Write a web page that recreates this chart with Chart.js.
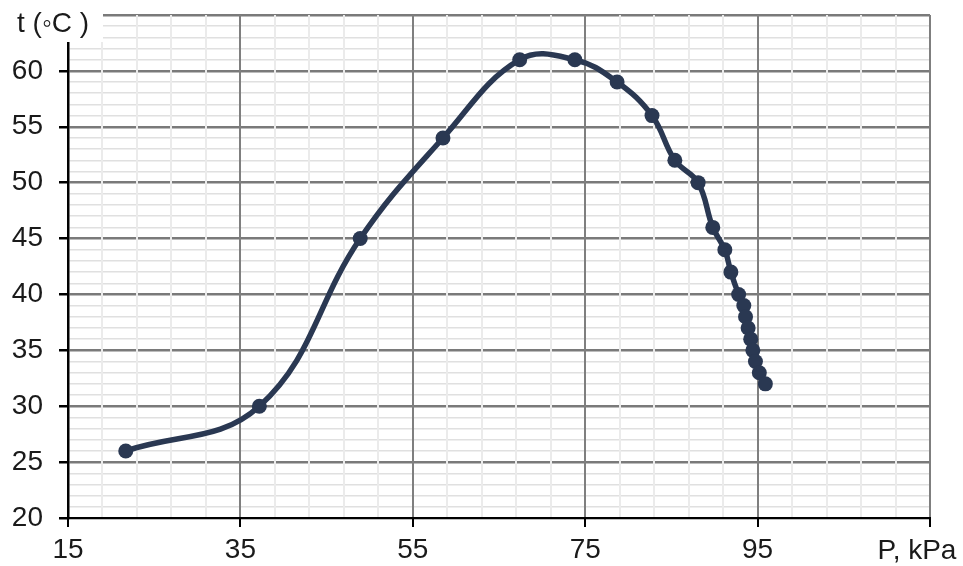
<!DOCTYPE html>
<html>
<head>
<meta charset="utf-8">
<script src="https://cdn.jsdelivr.net/npm/chart.js@4.4.1/dist/chart.umd.min.js"></script>
<style>
  html, body { margin: 0; padding: 0; background: #ffffff; }
  #wrap { width: 963px; height: 566px; position: relative; }
</style>
</head>
<body>
<div id="wrap"><canvas id="c" width="963" height="566"></canvas></div>
<script>
// ---- data ----
const pressureKPa = [21.7, 37.2, 48.9, 58.5, 67.4, 73.8, 78.7, 82.75, 85.4, 88.1, 89.8, 91.2, 91.9, 92.8, 93.4, 93.6, 93.9, 94.2, 94.45, 94.75, 95.2, 95.9];
const temperatureC = [26, 30, 45, 54, 61, 61, 59, 56, 52, 50, 46, 44, 42, 40, 39, 38, 37, 36, 35, 34, 33, 32];
const xMajorTicks = [15, 35, 55, 75, 95];
const yMajorTicks = [20, 25, 30, 35, 40, 45, 50, 55, 60];
const xAxisLabel = 'P, kPa';
const yAxisLabel = 't (\u25E6C )';

const points = pressureKPa.map((p, i) => ({ x: p, y: temperatureC[i] }));

const isXMajor = v => Math.abs(((v - 15) % 20 + 20) % 20) < 1e-6;
const isYMajor = v => Math.abs(((v - 20) % 5 + 5) % 5) < 1e-6;
const FONT = '"Liberation Sans", Arial, sans-serif';

const labelsPlugin = {
  id: 'axisLabels',
  afterDraw(chart) {
    const ctx = chart.ctx;
    ctx.save();
    ctx.fillStyle = '#ffffff';
    ctx.fillRect(0, 0, 103, 42);
    ctx.fillStyle = '#1a1a1a';
    ctx.font = '28px ' + FONT;
    ctx.textBaseline = 'middle';
    ctx.textAlign = 'left';
    ctx.fillText(yAxisLabel, 17, 24);
    ctx.textAlign = 'center';
    ctx.fillText(xAxisLabel, 917, 551);
    ctx.restore();
  }
};

new Chart(document.getElementById('c'), {
  type: 'scatter',
  data: {
    datasets: [{
      data: points,
      showLine: true,
      borderColor: '#2a3852',
      backgroundColor: '#2a3852',
      borderWidth: 5.5,
      tension: 0.4,
      pointRadius: 7.5,
      pointHoverRadius: 7.5,
      pointBorderWidth: 0,
      pointBackgroundColor: '#2a3852'
    }]
  },
  options: {
    responsive: false,
    animation: false,
    events: [],
    layout: { padding: { top: 15, right: 33, left: 0, bottom: 0 } },
    plugins: { legend: { display: false }, tooltip: { enabled: false } },
    scales: {
      x: {
        type: 'linear',
        min: 15, max: 115,
        afterFit(s) { s.height = 48; s.paddingLeft = 0; s.paddingRight = 0; },
        afterBuildTicks(s) {
          const t = [];
          for (let v = 15; v <= 115; v += 4) t.push({ value: v });
          s.ticks = t;
        },
        ticks: {
          autoSkip: false,
          maxRotation: 0,
          padding: 6,
          color: '#1a1a1a',
          font: { family: FONT, size: 28 },
          callback: v => xMajorTicks.includes(v) ? String(v) : ''
        },
        grid: {
          z: -1,
          color: c => isXMajor(c.tick.value) ? '#7f7f7f' : '#ebebeb',
          lineWidth: 2,
          tickColor: c => isXMajor(c.tick.value) ? '#000000' : 'rgba(0,0,0,0)',
          tickLength: 9
        },
        border: { display: true, color: '#000000', width: 2 }
      },
      y: {
        type: 'linear',
        min: 20, max: 65,
        afterFit(s) { s.width = 68; s.paddingTop = 0; s.paddingBottom = 0; },
        afterBuildTicks(s) {
          const t = [];
          for (let v = 20; v <= 65; v += 1) t.push({ value: v });
          s.ticks = t;
        },
        ticks: {
          autoSkip: false,
          padding: 16,
          color: '#1a1a1a',
          font: { family: FONT, size: 28 },
          callback: v => yMajorTicks.includes(v) ? String(v) : ''
        },
        grid: {
          z: -2,
          color: c => isYMajor(c.tick.value) ? '#7a7a7a' : '#e0e0e0',
          lineWidth: c => isYMajor(c.tick.value) ? 2.5 : 1.5,
          tickColor: c => isYMajor(c.tick.value) && c.tick.value !== 65 ? '#000000' : 'rgba(0,0,0,0)',
          tickLength: 9
        },
        border: { display: true, color: '#000000', width: 2.5 }
      }
    }
  },
  plugins: [labelsPlugin]
});
</script>
</body>
</html>
